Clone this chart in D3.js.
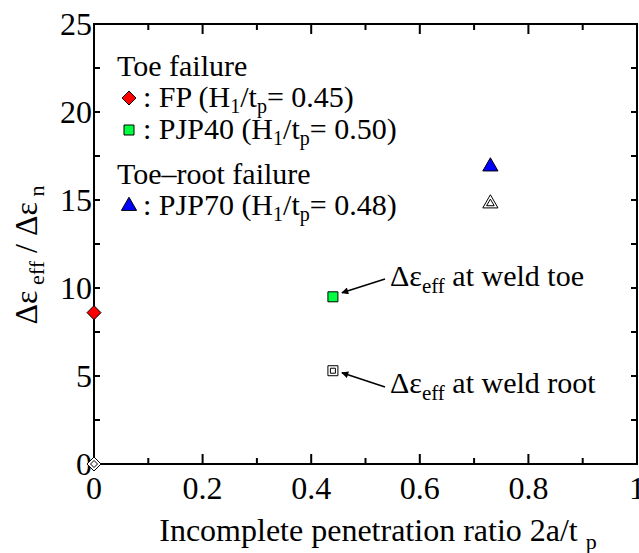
<!DOCTYPE html>
<html>
<head>
<meta charset="utf-8">
<script src="https://cdn.jsdelivr.net/npm/d3@7"></script>
<style>
  html, body { margin: 0; padding: 0; background: #fff; }
  svg { display: block; }
  svg text { font-family: "Liberation Serif", Tinos, "Times New Roman", Times, "DejaVu Serif", serif; }
</style>
</head>
<body>
<svg id="chart" width="639" height="553"></svg>
<script>
// Incomplete penetration ratio vs. effective strain concentration
const xTicks = [0, 0.2, 0.4, 0.6, 0.8, 1];
const xTickLabels = ["0", "0.2", "0.4", "0.6", "0.8", "1"];
const yTicks = [0, 5, 10, 15, 20, 25];
const yTickLabels = ["0", "5", "10", "15", "20", "25"];

const series = ["FP", "PJP40", "PJP70"];
const ratio = [0, 0.44, 0.73];          // 2a/t_p
const toeValues = [8.6, 9.5, 16.9];     // Δε_eff at weld toe / Δε_n
const rootValues = [0, 5.3, 14.8];      // Δε_eff at weld root / Δε_n
const shapes = ["diamond", "square", "triangle"];
const fills = ["#ff0000", "#00ff40", "#0000ff"];
const h1tp = ["0.45", "0.50", "0.48"];

const svg = d3.select("#chart");
const m = { left: 94, right: 637, top: 24, bottom: 464 };

const x = d3.scaleLinear().domain([0, 1]).range([m.left, m.right]);
const y = d3.scaleLinear().domain([0, 25]).range([m.bottom, m.top]);

// frame
svg.append("rect")
  .attr("x", m.left).attr("y", m.top)
  .attr("width", m.right - m.left).attr("height", m.bottom - m.top)
  .attr("fill", "none").attr("stroke", "#000").attr("stroke-width", 2);

// inward ticks on all four sides
const xMinor = d3.range(0.1, 1, 0.2);
const yMinor = d3.range(2.5, 25, 5);
const tickG = svg.append("g").attr("stroke", "#000").attr("stroke-width", 2);
function xTick(v, len) {
  tickG.append("line").attr("x1", x(v)).attr("x2", x(v)).attr("y1", m.bottom).attr("y2", m.bottom - len);
  tickG.append("line").attr("x1", x(v)).attr("x2", x(v)).attr("y1", m.top).attr("y2", m.top + len);
}
function yTick(v, len) {
  tickG.append("line").attr("y1", y(v)).attr("y2", y(v)).attr("x1", m.left).attr("x2", m.left + len);
  tickG.append("line").attr("y1", y(v)).attr("y2", y(v)).attr("x1", m.right).attr("x2", m.right - len);
}
xTicks.slice(1, -1).forEach(v => xTick(v, 10));
xMinor.forEach(v => xTick(v, 6));
yTicks.slice(1, -1).forEach(v => yTick(v, 6));
yMinor.forEach(v => yTick(v, 6));

// tick labels
svg.append("g").selectAll("text").data(xTicks).join("text")
  .attr("x", d => x(d)).attr("y", m.bottom + 35)
  .attr("text-anchor", "middle").attr("font-size", 32)
  .text((d, i) => xTickLabels[i]);
svg.append("g").selectAll("text").data(yTicks).join("text")
  .attr("x", m.left - 2).attr("y", d => y(d) + 11)
  .attr("text-anchor", "end").attr("font-size", 32)
  .text((d, i) => yTickLabels[i]);

// axis titles
const xt = svg.append("text")
  .attr("x", 378).attr("y", 541)
  .attr("text-anchor", "middle").attr("font-size", 32);
xt.append("tspan").text("Incomplete penetration ratio 2a/t ");
xt.append("tspan").attr("dy", 8).attr("font-size", 22).text("p");

const yt = svg.append("text")
  .attr("transform", "translate(37,255) rotate(-90)")
  .attr("text-anchor", "middle").attr("font-size", 32);
yt.append("tspan").text("Δε");
yt.append("tspan").attr("dy", 7).attr("font-size", 22).text(" eff");
yt.append("tspan").attr("dy", -7).text(" / Δε");
yt.append("tspan").attr("dy", 7).attr("font-size", 22).text(" n");

// marker symbols (diamond is a square rotated 45°)
const diamond = { draw(ctx, size) { const r = Math.sqrt(size / 2); ctx.moveTo(0, -r); ctx.lineTo(r, 0); ctx.lineTo(0, r); ctx.lineTo(-r, 0); ctx.closePath(); } };
const symType = { diamond: diamond, square: d3.symbolSquare, triangle: d3.symbolTriangle };
const symSize = { diamond: 98, square: 100, triangle: 100 };
function marker(g, shape, cx, cy, fill, scale = 1) {
  return g.append("path")
    .attr("d", d3.symbol().type(symType[shape]).size(symSize[shape] * scale)())
    .attr("transform", `translate(${cx},${cy})`)
    .attr("fill", fill).attr("stroke", "#000").attr("stroke-width", 1);
}
function hollowMarker(g, shape, cx, cy) {
  marker(g, shape, cx, cy, "#fff");
  marker(g, shape, cx, cy, "none", 0.25);
}

const pts = svg.append("g");
series.forEach((s, i) => {
  hollowMarker(pts, shapes[i], x(ratio[i]), y(rootValues[i]));
  marker(pts, shapes[i], x(ratio[i]), y(toeValues[i]), fills[i]);
});

// legend
const lg = svg.append("g").attr("font-size", 30);
function heading(txt, by) {
  lg.append("text").attr("x", 117).attr("y", by).text(txt);
}
function legendItem(i, by) {
  marker(lg, shapes[i], 129, by - 9, fills[i]);
  const t = lg.append("text").attr("x", 143).attr("y", by);
  t.append("tspan").text(` : ${series[i]} (H`);
  t.append("tspan").attr("dy", 6).attr("font-size", 20).text("1");
  t.append("tspan").attr("dy", -6).text("/t");
  t.append("tspan").attr("dy", 6).attr("font-size", 20).text("p");
  t.append("tspan").attr("dy", -6).text(`= ${h1tp[i]})`);
}
heading("Toe failure", 76);
legendItem(0, 107);
legendItem(1, 139);
heading("Toe–root failure", 184);
legendItem(2, 215);

// annotations with arrows
svg.append("defs").append("marker")
  .attr("id", "arrow").attr("viewBox", "0 0 10 10")
  .attr("refX", 9).attr("refY", 5)
  .attr("markerWidth", 9).attr("markerHeight", 7).attr("markerUnits", "userSpaceOnUse")
  .attr("orient", "auto")
  .append("path").attr("d", "M0,0 L10,5 L0,10 z").attr("fill", "#000");

function annotate(txt, i, values, tx, ty, ax0, ay0, dx, dy) {
  const px = x(ratio[i]) + dx, py = y(values[i]) + dy;
  svg.append("line")
    .attr("x1", ax0).attr("y1", ay0).attr("x2", px).attr("y2", py)
    .attr("stroke", "#000").attr("stroke-width", 1.5)
    .attr("marker-end", "url(#arrow)");
  const t = svg.append("text").attr("x", tx).attr("y", ty).attr("font-size", 30);
  t.append("tspan").text("Δε");
  t.append("tspan").attr("dy", 7).attr("font-size", 21).text("eff");
  t.append("tspan").attr("dy", -7).text(txt);
}
annotate(" at weld toe", 1, toeValues, 390, 286, 385, 279, 9, -4);
annotate(" at weld root", 1, rootValues, 390, 393, 385, 387, 9, 2);
</script>
</body>
</html>
